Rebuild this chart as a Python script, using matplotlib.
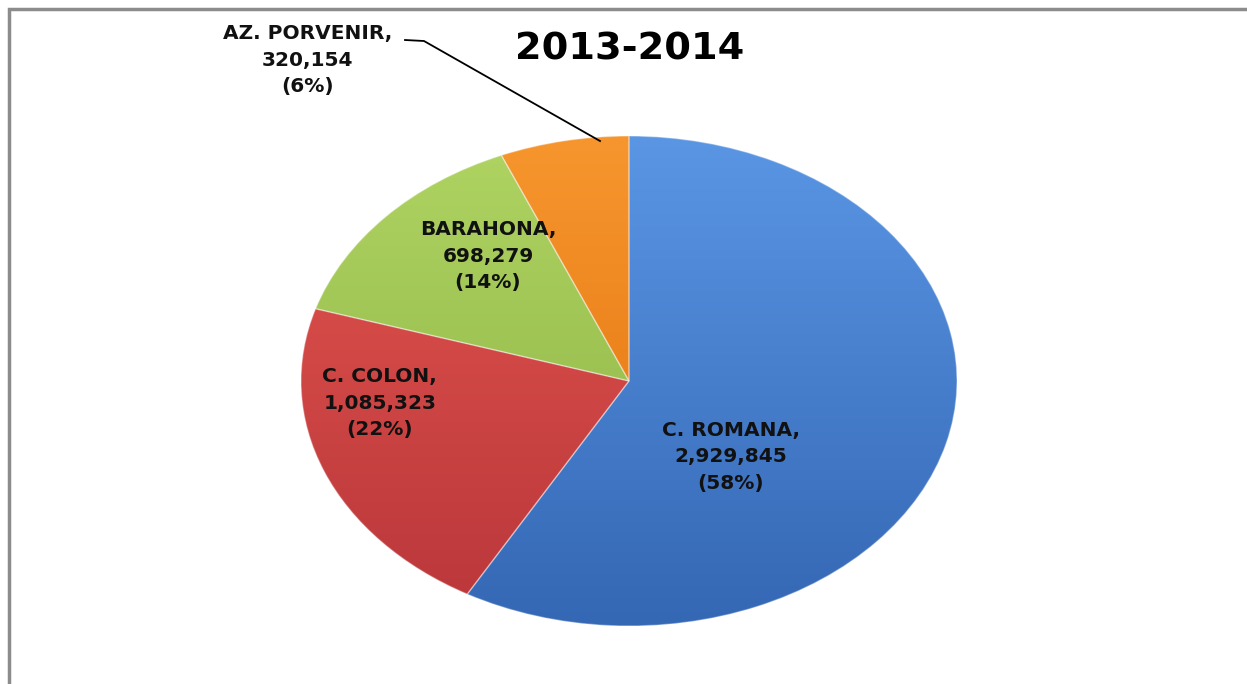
import numpy as np
import matplotlib.pyplot as plt
from matplotlib.colors import LinearSegmentedColormap
from matplotlib.patches import Rectangle
from matplotlib.lines import Line2D

# data
regions = ['C. ROMANA', 'C. COLON', 'BARAHONA', 'AZ. PORVENIR']
values = [2929845, 1085323, 698279, 320154]
colors_light = ['#5A96E4', '#E4564F', '#AFD462', '#F7962E']
colors_dark = ['#3467B4', '#B9363A', '#8AB043', '#E06E0A']
title = '2013-2014'

# label anchor points (pie units, radius = 1)
label_x = [0.31, -0.76, -0.43, -0.98]
label_y = [-0.31, -0.09, 0.51, 1.31]

plt.rcParams['font.family'] = ['DejaVu Sans']

fig = plt.figure(figsize=(12.47, 6.84), dpi=100)
fig.patch.set_facecolor('white')

# chart border (cropped on the right and bottom)
fig.patches.append(Rectangle((9 / 1247, -0.05), 1.2, 1 - 9 / 684 + 0.05,
                             transform=fig.transFigure, fill=False,
                             edgecolor='#8c8c8c', linewidth=2.5))

W, H = 1247, 684
cx, cy, rx, ry = 629, 381, 328, 245
ax = fig.add_axes([(cx - rx) / W, (H - cy - ry) / H, 2 * rx / W, 2 * ry / H])

wedges, _ = ax.pie(values, startangle=90, counterclock=False,
                   colors=colors_light,
                   wedgeprops=dict(edgecolor='#ffffff55', linewidth=1.0))
ax.set_aspect('auto')
ax.set_xlim(-1, 1)
ax.set_ylim(-1, 1)

# gradient fill clipped to each wedge
grad = np.linspace(0, 1, 256).reshape(-1, 1)
for w, cl, cd in zip(wedges, colors_light, colors_dark):
    cmap = LinearSegmentedColormap.from_list('g', [cd, cl])
    im = ax.imshow(grad, cmap=cmap, extent=(-1, 1, -1, 1), origin='lower',
                   aspect='auto', zorder=w.get_zorder() + 0.1)
    im.set_clip_path(w)
    w.set_zorder(w.get_zorder() + 0.2)
    w.set_facecolor('none')

total = sum(values)
for name, v, x, y in zip(regions, values, label_x, label_y):
    pct = round(100 * v / total)
    ax.text(x, y, f'{name},\n{v:,}\n({pct}%)', ha='center', va='center',
            fontsize=14.5, fontweight='bold', color='#111111', linespacing=1.5,
            zorder=10, clip_on=False)

# leader line for the small slice
fig.add_artist(Line2D([405 / W, 424 / W, 600 / W],
                      [1 - 40 / H, 1 - 41 / H, 1 - 141 / H],
                      color='black', linewidth=1.3))

fig.text(630 / W, 1 - 50 / H, title, ha='center', va='center',
         fontsize=27.5, fontweight='bold', color='black')

fig.savefig('out.png', dpi=100)
